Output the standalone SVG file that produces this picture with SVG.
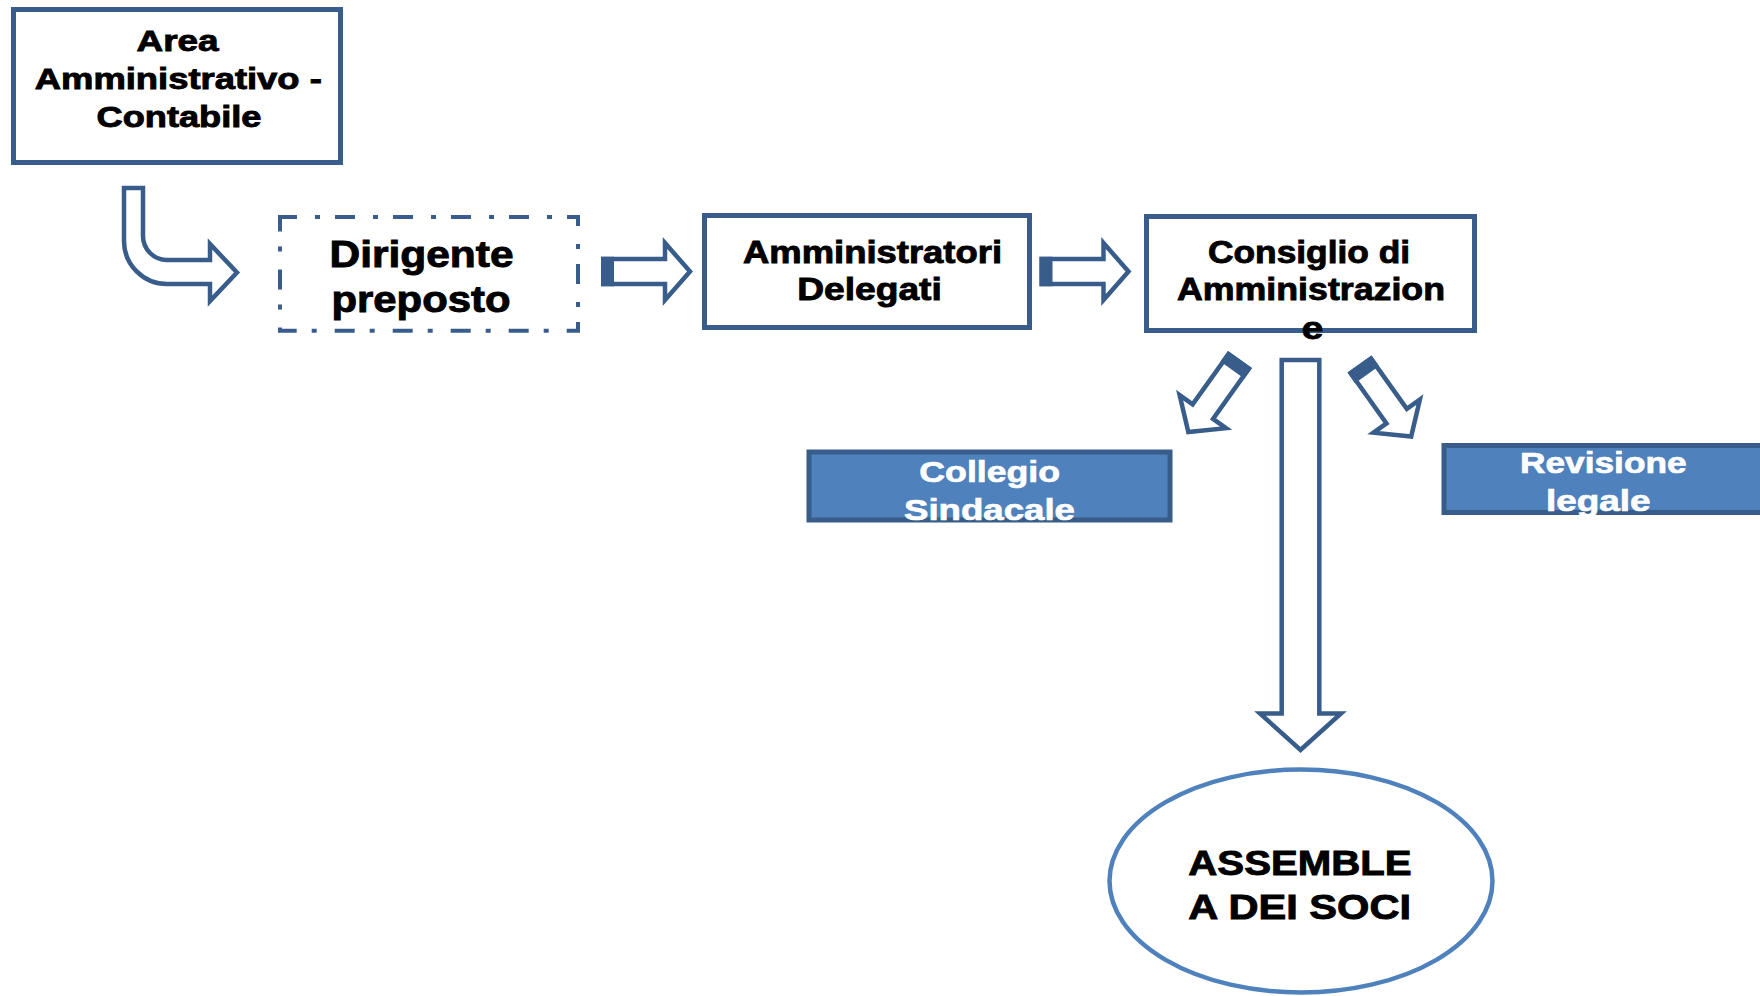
<svg xmlns="http://www.w3.org/2000/svg" width="1760" height="996" viewBox="0 0 1760 996">
<defs>
<style>
.box{fill:#ffffff;stroke:#385D8A;stroke-width:5}
.dash{fill:#ffffff;stroke:#385D8A;stroke-width:4;stroke-dasharray:20 18 5 15;stroke-dashoffset:3}
.blue{fill:#4F81BD;stroke:#385D8A;stroke-width:5}
.ell{fill:#ffffff;stroke:#4F81BD;stroke-width:4.5}
.arr{fill:#ffffff;stroke:#385D8A;stroke-width:4.5;stroke-linejoin:miter}
.tail{fill:#385D8A}
text{font-family:"Liberation Sans",Arial,sans-serif;font-weight:bold;text-anchor:middle}
.t{fill:#000000;stroke:#000000;stroke-width:0.9}
.w{fill:#ffffff;stroke:#ffffff;stroke-width:0.7}
</style>
<g id="blockArrow">
<path class="arr" d="M2.25 -12.5 H64 V-28.5 L89 0 L64 28.5 V12.5 H2.25 Z"/>
<rect class="tail" x="0" y="-14.75" width="13" height="29.5"/>
</g>
</defs>

<g id="connectors">
<path class="arr" d="M124 188 L143 188 L143 236 A24 24 0 0 0 167 260 L210 260 L210 244 L237 272.5 L210 301 L210 284 L167 284 A43 43 0 0 1 124 241 Z"/>
<use href="#blockArrow" transform="translate(601 271.5)"/>
<use href="#blockArrow" transform="translate(1039.5 271.5)"/>
<use href="#blockArrow" transform="translate(1240 359.5) rotate(125.5)"/>
<use href="#blockArrow" transform="translate(1359.5 364) rotate(54.5)"/>
<path class="arr" d="M1281.7 360 L1319.3 360 L1319.3 713.5 L1341 713.5 L1300.5 750 L1260 713.5 L1281.7 713.5 Z"/>
</g>

<g id="area">
<rect class="box" x="13.5" y="9.5" width="327" height="153"/>
<text class="t" x="177.5" y="50.5" font-size="30" textLength="82" lengthAdjust="spacingAndGlyphs">Area</text>
<text class="t" x="178.3" y="88.5" font-size="30" textLength="287" lengthAdjust="spacingAndGlyphs">Amministrativo -</text>
<text class="t" x="179" y="126.5" font-size="30" textLength="165" lengthAdjust="spacingAndGlyphs">Contabile</text>
</g>

<g id="dirigente">
<path class="dash" d="M280 217 H578 V330.7 H280 Z"/>
<text class="t" x="421.5" y="267" font-size="36" textLength="184" lengthAdjust="spacingAndGlyphs">Dirigente</text>
<text class="t" x="421" y="312" font-size="36" textLength="179" lengthAdjust="spacingAndGlyphs">preposto</text>
</g>

<g id="amministratori">
<rect class="box" x="704.5" y="215.5" width="325" height="112"/>
<text class="t" x="872.5" y="262.5" font-size="32" textLength="259" lengthAdjust="spacingAndGlyphs">Amministratori</text>
<text class="t" x="869.5" y="299.5" font-size="32" textLength="144.5" lengthAdjust="spacingAndGlyphs">Delegati</text>
</g>

<g id="consiglio">
<rect class="box" x="1146.5" y="216.5" width="328" height="114"/>
<text class="t" x="1309" y="263" font-size="32" textLength="202" lengthAdjust="spacingAndGlyphs">Consiglio di</text>
<text class="t" x="1311" y="300" font-size="32" textLength="268" lengthAdjust="spacingAndGlyphs">Amministrazion</text>
<text class="t" x="1312.5" y="338.5" font-size="32" textLength="21.5" lengthAdjust="spacingAndGlyphs">e</text>
</g>

<g id="collegio">
<rect class="blue" x="809" y="452" width="361" height="68"/>
<text class="w" x="989.7" y="482" font-size="30" textLength="140.7" lengthAdjust="spacingAndGlyphs">Collegio</text>
<text class="w" x="989.5" y="520" font-size="30" textLength="171" lengthAdjust="spacingAndGlyphs">Sindacale</text>
</g>

<g id="revisione">
<rect class="blue" x="1444" y="445.5" width="340" height="67"/>
<text class="w" x="1603.3" y="473" font-size="30" textLength="166.7" lengthAdjust="spacingAndGlyphs">Revisione</text>
<text class="w" x="1598.3" y="511" font-size="30" textLength="104.7" lengthAdjust="spacingAndGlyphs">legale</text>
</g>

<g id="assemblea">
<ellipse class="ell" cx="1301" cy="881" rx="191.5" ry="111.5"/>
<text class="t" x="1300" y="875" font-size="35" textLength="223.4" lengthAdjust="spacingAndGlyphs">ASSEMBLE</text>
<text class="t" x="1299.7" y="919.3" font-size="35" textLength="222.7" lengthAdjust="spacingAndGlyphs">A DEI SOCI</text>
</g>
</svg>
